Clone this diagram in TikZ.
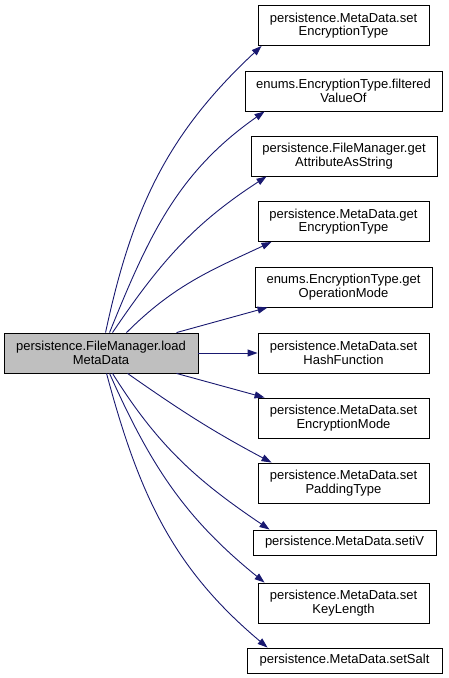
\documentclass[tikz,border=0pt]{standalone}
\usepackage{fontspec}
\setmainfont{Liberation Sans}
\usetikzlibrary{arrows.meta}
\definecolor{edgeblue}{RGB}{25,25,112}
\definecolor{callergray}{RGB}{191,191,191}

\begin{document}
\begin{tikzpicture}[x=1pt,y=1pt,
  fn/.style={draw=black,line width=0.9pt,fill=white,inner sep=0pt,align=center,
    minimum height=40pt,font=\fontsize{13}{13.5}\selectfont},
  call/.style={edgeblue,line width=0.9pt,-{Triangle[length=10pt,width=7pt]}}]
\useasboundingbox (0,0) rectangle (448,-678);
% caller
\node[fn,fill=callergray,minimum width=194pt] (load) at (101,-353) {persistence.FileManager.load\\MetaData};
% callees, top to bottom
\node[fn,minimum width=171pt] (setEncType) at (343.5,-25.5) {persistence.MetaData.set\\EncryptionType};
\node[fn,minimum width=197pt] (filteredValueOf) at (343.5,-91) {enums.EncryptionType.filtered\\ValueOf};
\node[fn,minimum width=186pt] (getAttrString) at (344,-156) {persistence.FileManager.get\\AttributeAsString};
\node[fn,minimum width=171pt] (getEncType) at (343.5,-221.5) {persistence.MetaData.get\\EncryptionType};
\node[fn,minimum width=177pt] (getOpMode) at (343.5,-287) {enums.EncryptionType.get\\OperationMode};
\node[fn,minimum width=171pt] (setHashFn) at (343.5,-353) {persistence.MetaData.set\\HashFunction};
\node[fn,minimum width=171pt] (setEncMode) at (343.5,-418) {persistence.MetaData.set\\EncryptionMode};
\node[fn,minimum width=171pt] (setPadType) at (343.5,-483) {persistence.MetaData.set\\PaddingType};
\node[fn,minimum width=183pt,minimum height=25pt] (setIV) at (344.5,-542.5) {persistence.MetaData.setiV};
\node[fn,minimum width=171pt] (setKeyLen) at (343.5,-603) {persistence.MetaData.set\\KeyLength};
\node[fn,minimum width=195pt,minimum height=25pt] (setSalt) at (344.5,-660.5) {persistence.MetaData.setSalt};
% calls
\draw[call] ([xshift=102pt]load.north west) to[out=78,in=223] ([xshift=4pt]setEncType.south west);
\draw[call] ([xshift=106pt]load.north west) to[out=68,in=215] ([xshift=20pt]filteredValueOf.south west);
\draw[call] ([xshift=109pt]load.north west) to[out=56,in=213] ([xshift=16pt]getAttrString.south west);
\draw[call] ([xshift=123pt]load.north west) to[out=45,in=205] ([xshift=14pt]getEncType.south west);
\draw[call] ([xshift=173pt]load.north west) -- ([xshift=13pt]getOpMode.south west);
\draw[call] (load.east) -- (setHashFn.west);
\draw[call] ([xshift=173pt]load.south west) -- ([xshift=7pt]setEncMode.north west);
\draw[call] ([xshift=124pt]load.south west) to[out=-35,in=152] ([xshift=14pt]setPadType.north west);
\draw[call] ([xshift=109pt]load.south west) to[out=-58,in=146] ([xshift=17pt]setIV.north west);
\draw[call] ([xshift=106pt]load.south west) to[out=-66,in=141] ([xshift=7pt]setKeyLen.north west);
\draw[call] ([xshift=103pt]load.south west) to[out=-75,in=140] ([xshift=21pt]setSalt.north west);
\end{tikzpicture}
\end{document}
